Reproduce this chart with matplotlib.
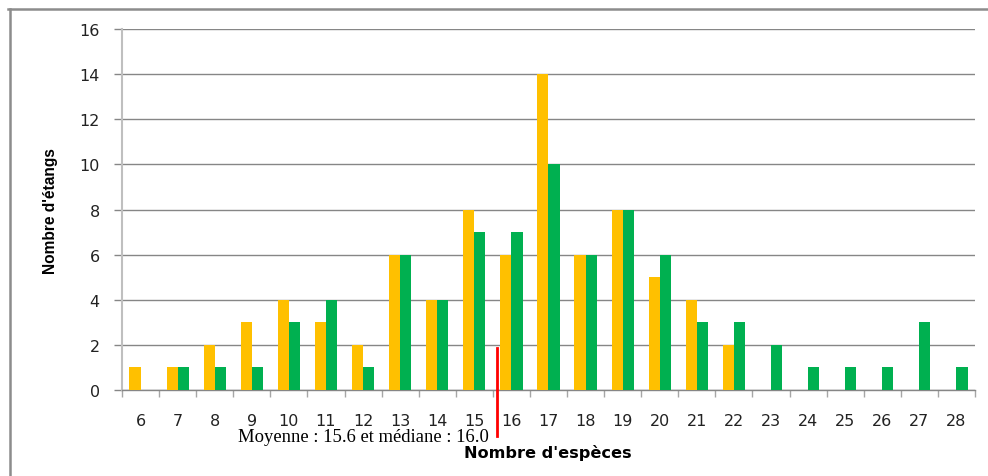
import matplotlib
matplotlib.use("Agg")
import matplotlib.pyplot as plt
from matplotlib.lines import Line2D
import numpy as np

categories = [str(v) for v in range(6, 29)]
serie_orange = [1, 1, 2, 3, 4, 3, 2, 6, 4, 8, 6, 14, 6, 8, 5, 4, 2, 0, 0, 0, 0, 0, 0]
serie_verte = [0, 1, 1, 1, 3, 4, 1, 6, 4, 7, 7, 10, 6, 8, 6, 3, 3, 2, 1, 1, 1, 3, 1]
yticks = [0, 2, 4, 6, 8, 10, 12, 14, 16]
moyenne = 15.6
annotation = "Moyenne : 15.6 et médiane : 16.0"
first_cat = 6

fig = plt.figure(figsize=(9.88, 4.77), dpi=100)
ax = fig.add_axes([0.1235, 0.1803, 0.8633, 0.7568])

x = np.arange(len(categories))
w = 0.3
ax.bar(x - w / 2, serie_orange, width=w, color="#FFC000", zorder=3)
ax.bar(x + w / 2, serie_verte, width=w, color="#00B050", zorder=3)

ax.set_xlim(-0.5, len(categories) - 0.5)
ax.set_ylim(0, 16)
ax.set_yticks(yticks)
ax.set_yticklabels([str(v) for v in yticks], fontsize=11.5, family="DejaVu Sans", color="#222222")
ax.yaxis.grid(True, color="#868686", linewidth=1.0, zorder=0)
ax.tick_params(axis="y", length=6, width=1, color="#868686", pad=10)

ax.set_xticks(x)
ax.set_xticklabels(categories, fontsize=11.5, family="DejaVu Sans", color="#222222")
ax.set_xticks(np.arange(len(categories) + 1) - 0.5, minor=True)
ax.tick_params(axis="x", which="major", length=0, pad=16.5)
ax.tick_params(axis="x", which="minor", length=5, width=1, color="#A6A6A6")

for s in ["top", "right"]:
    ax.spines[s].set_visible(False)
ax.spines["left"].set_color("#BFBFBF")
ax.spines["left"].set_linewidth(1.5)
ax.spines["bottom"].set_color("#868686")
ax.spines["bottom"].set_linewidth(1.0)

# mean marker
xm = moyenne - first_cat
ax.plot([xm, xm], [1.86, -2.05], color="#FF0000", linewidth=2, clip_on=False, zorder=5)

ax.text(xm - 0.2, -2.05, annotation, ha="right", va="center",
        fontsize=13.4, family="Liberation Serif", clip_on=False)

fig.text(548 / 988, 1 - 453 / 477, "Nombre d'espèces", ha="center", va="center",
         fontsize=11.6, fontweight="bold", family="DejaVu Sans")
fig.text(51 / 988, 1 - 211 / 477, "Nombre d'étangs", ha="center", va="center",
         rotation=90, fontsize=11.2, fontweight="bold", family="Liberation Sans")

# outer frame (top and left edges)
fig.add_artist(Line2D([8 / 988, 1.0], [1 - 10 / 477, 1 - 10 / 477],
                      transform=fig.transFigure, color="#8C8C8C", linewidth=1.8))
fig.add_artist(Line2D([9.5 / 988, 9.5 / 988], [1 - 10 / 477, 0.0],
                      transform=fig.transFigure, color="#8C8C8C", linewidth=1.8))

fig.savefig("out.png", dpi=100)
